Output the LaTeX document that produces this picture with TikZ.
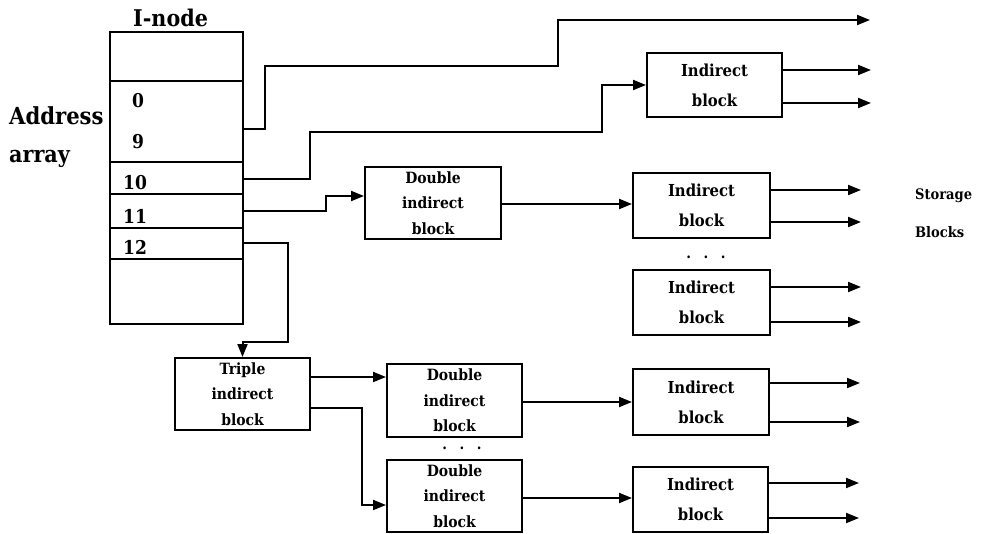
\documentclass[tikz,border=0pt]{standalone}
\usepackage{fontspec}
\setmainfont{DejaVu Serif Condensed}
\usetikzlibrary{arrows.meta}
\begin{document}
\begin{tikzpicture}[x=1pt,y=-1pt,
  wire/.style={line width=2pt},
  tip/.style={wire,-{Triangle[length=13pt,width=10pt]}},
  box/.style={draw, rectangle, line width=2pt, inner sep=0pt, align=center},
  indbox/.style={box, minimum width=135pt, minimum height=65pt,
    font=\bfseries\fontsize{16.5}{30}\selectfont},
  dblbox/.style={box, minimum width=135pt, minimum height=72pt,
    font=\bfseries\fontsize{15.5}{25.5}\selectfont},
  lbl/.style={inner sep=0pt, anchor=base west, font=\bfseries\fontsize{#1}{#1}\selectfont},
  dots/.style={inner sep=0pt, anchor=base, font=\bfseries\fontsize{15}{15}\selectfont}
]
\useasboundingbox (0,0) rectangle (984,534);

% I-node with its address slots
\node[draw, line width=2pt, minimum width=133pt, minimum height=292pt, inner sep=0pt]
  (inode) at (176.5,178) {};
\foreach \yy in {81,162,194,228,259}
  \draw[wire] (inode.west |- 0,\yy) -- (inode.east |- 0,\yy);

\node[lbl=23] (title) at (133,27) {I-node};
\node[lbl=23.5] (addr) at (9,125) {Address};
\node[lbl=23] (arr) at (9,163) {array};
\node[lbl=19] (n0) at (132,108) {0};
\node[lbl=19] (n9) at (132,149) {9};
\node[lbl=19] (n10) at (123,190) {10};
\node[lbl=19] (n11) at (123,224) {11};
\node[lbl=19] (n12) at (123,255) {12};

% indirect and double/triple indirect blocks
\node[indbox, minimum width=135pt, minimum height=64pt] (ib1) at (714.5,85) {Indirect\\block};
\node[dblbox, minimum width=136pt] (db1) at (433,203) {Double\\indirect\\block};
\node[indbox, minimum width=137pt] (ib2) at (701.5,205.5) {Indirect\\block};
\node[indbox, minimum width=137pt] (ib3) at (701.5,302.5) {Indirect\\block};
\node[dblbox] (tb) at (242.5,394) {Triple\\indirect\\block};
\node[dblbox, minimum height=73pt] (db2) at (454.5,400.5) {Double\\indirect\\block};
\node[dblbox] (db3) at (454.5,496) {Double\\indirect\\block};
\node[indbox, minimum width=136pt, minimum height=66pt] (ib4) at (701,402) {Indirect\\block};
\node[indbox] (ib5) at (700.5,499.5) {Indirect\\block};

\node[dots] (dotsA) at (706,259) {.\hspace{12.5pt}.\hspace{12.5pt}.};
\node[dots] (dotsB) at (462,449) {.\hspace{12.5pt}.\hspace{12.5pt}.};

\node[lbl=14.5] (stor) at (915,200) {Storage};
\node[lbl=14.5] (blks) at (915,238) {Blocks};

% pointers leaving the I-node
\coordinate (direct) at (870,20);
\draw[tip] (inode.east |- 0,129) -| (265,66) -| (558,20) -- (direct);
\draw[tip] (inode.east |- 0,179) -| (310,132) -| (602,85) -- (ib1.west);
\draw[tip] (inode.east |- 0,211) -| (326,196) -- (db1.west |- 0,196);
\draw[tip] (inode.east |- 0,243) -| (288,342) -| (tb.north);

% links between blocks
\draw[tip] (db1.east |- 0,204) -- (ib2.west |- 0,204);
\draw[tip] (tb.east |- 0,377) -- (db2.west |- 0,377);
\draw[tip] (tb.east |- 0,408) -| (362,505) -- (db3.west |- 0,505);
\draw[tip] (db2.east |- 0,402) -- (ib4.west |- 0,402);
\draw[tip] (db3.east |- 0,498) -- (ib5.west |- 0,498);

% pointers to storage blocks
\draw[tip] (ib1.east |- 0,70) -- ++(88,0);
\draw[tip] (ib1.east |- 0,103) -- ++(88,0);
\foreach \b/\ya/\yb in {ib2/190/222, ib3/287/322, ib4/383/422, ib5/483/518} {
  \draw[tip] (\b.east |- 0,\ya) -- ++(90,0);
  \draw[tip] (\b.east |- 0,\yb) -- ++(90,0);
}
\end{tikzpicture}
\end{document}
